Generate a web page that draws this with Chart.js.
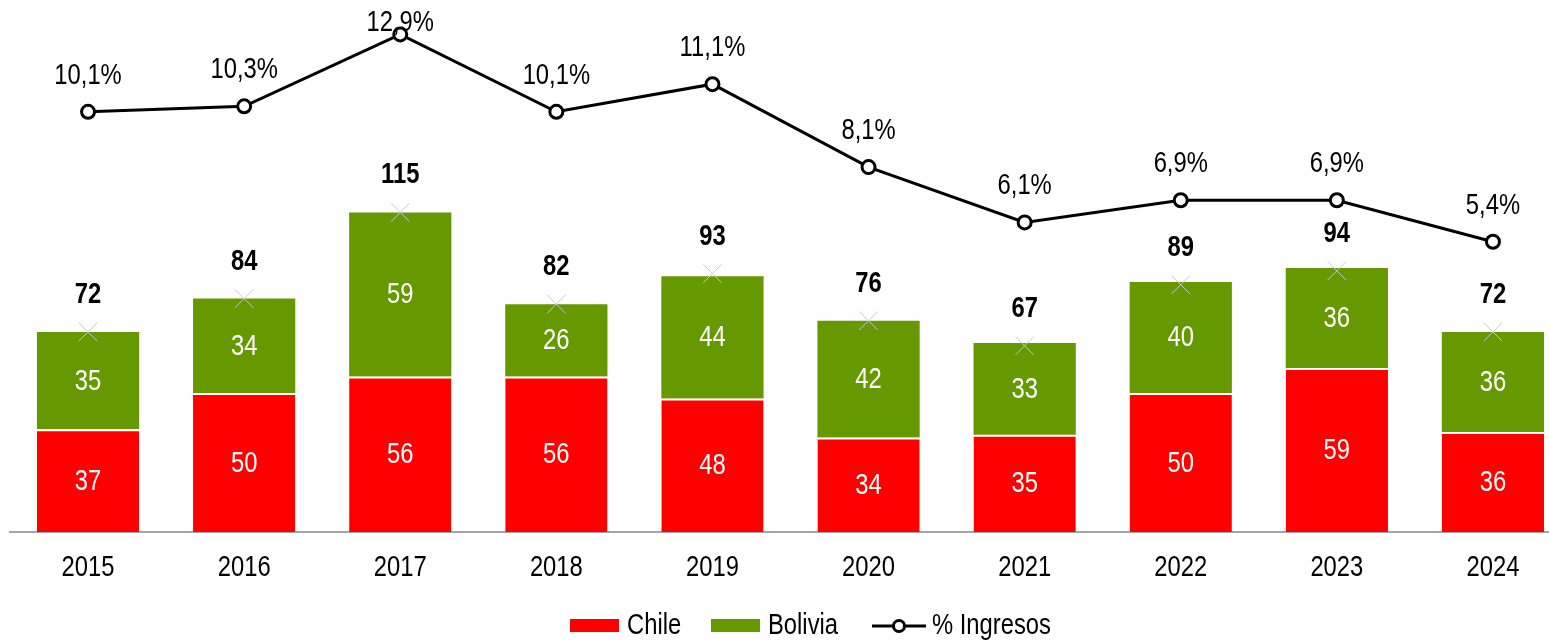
<!DOCTYPE html>
<html><head><meta charset="utf-8">
<script src="https://cdn.jsdelivr.net/npm/chart.js@4/dist/chart.umd.min.js"></script>
<style>html,body{margin:0;padding:0;overflow:hidden;background:#fff}#wrap{width:1620px;height:640px;position:relative}</style>
</head><body><div id="wrap"><canvas id="c" width="1620" height="640"></canvas></div>
<script>
const years = ['2015','2016','2017','2018','2019','2020','2021','2022','2023','2024'];
const chile = [37,50,56,56,48,34,35,50,59,36];
const bolivia = [35,34,59,26,44,42,33,40,36,36];
const totals = [72,84,115,82,93,76,67,89,94,72];
const pctIngresos = [10.1,10.3,12.9,10.1,11.1,8.1,6.1,6.9,6.9,5.4];

const FONT = "'Liberation Sans', Arial, sans-serif";
const RED = '#ff0000', GREEN = '#669900';
const SX = 0.82; // horizontal compression to mimic a narrow typeface

function txt(ctx, t, x, y, font, color, align) {
  ctx.save();
  ctx.translate(x, y);
  ctx.scale(SX, 1);
  ctx.font = font;
  ctx.fillStyle = color;
  ctx.textAlign = align || 'center';
  ctx.textBaseline = 'middle';
  ctx.fillText(t, 0, 0);
  ctx.restore();
}

const labelPlugin = {
  id: 'labelPlugin',
  afterDatasetsDraw(chart) {
    const ctx = chart.ctx;
    [0, 1].forEach(di => {
      const meta = chart.getDatasetMeta(di);
      const data = chart.data.datasets[di].data;
      meta.data.forEach((el, i) => {
        txt(ctx, String(data[i]), el.x, (el.y + el.base) / 2 + 1, '29px ' + FONT, '#ffffff');
      });
    });
    chart.getDatasetMeta(2).data.forEach((el, i) => {
      txt(ctx, String(totals[i]), el.x, el.y - 37, 'bold 29px ' + FONT, '#000');
    });
    chart.getDatasetMeta(3).data.forEach((el, i) => {
      const t = pctIngresos[i].toFixed(1).replace('.', ',') + '%';
      txt(ctx, t, el.x, Math.max(el.y - 36, 23), '29px ' + FONT, '#000');
    });
  },
  afterDraw(chart) {
    const ctx = chart.ctx;
    const xs = chart.scales.x;
    years.forEach((y, i) => {
      txt(ctx, y, xs.getPixelForValue(i), 568, '29px ' + FONT, '#000');
    });
    ctx.save();
    ctx.fillStyle = RED;
    ctx.fillRect(570, 619, 49, 13);
    ctx.fillStyle = GREEN;
    ctx.fillRect(711, 619, 49, 13);
    ctx.strokeStyle = '#000';
    ctx.lineWidth = 3;
    ctx.beginPath(); ctx.moveTo(872, 626); ctx.lineTo(926, 626); ctx.stroke();
    ctx.beginPath(); ctx.arc(899, 626, 5.5, 0, Math.PI * 2);
    ctx.fillStyle = '#fff'; ctx.fill(); ctx.stroke();
    ctx.restore();
    txt(ctx, 'Chile', 627, 626, '29px ' + FONT, '#000', 'left');
    txt(ctx, 'Bolivia', 768, 626, '29px ' + FONT, '#000', 'left');
    txt(ctx, '% Ingresos', 932, 626, '29px ' + FONT, '#000', 'left');
  }
};

new Chart(document.getElementById('c'), {
  type: 'bar',
  data: {
    labels: years,
    datasets: [
      { label: 'Chile', data: chile, backgroundColor: RED, borderColor: '#ffffff',
        borderWidth: {top: 2, left: 0, right: 0, bottom: 0}, borderSkipped: false,
        yAxisID: 'y', stack: 's', order: 3, categoryPercentage: 1, barPercentage: 0.655 },
      { label: 'Bolivia', data: bolivia, backgroundColor: GREEN, borderWidth: 0,
        yAxisID: 'y', stack: 's', order: 3, categoryPercentage: 1, barPercentage: 0.655 },
      { type: 'line', label: 'Total', data: totals, yAxisID: 'yT', showLine: false,
        pointStyle: 'crossRot', pointRadius: 13, pointBorderColor: '#cbc3e0', pointBorderWidth: 1,
        borderColor: '#cbc3e0', order: 2 },
      { type: 'line', label: '% Ingresos', data: pctIngresos, yAxisID: 'y2',
        borderColor: '#000', borderWidth: 3, pointRadius: 6.5, pointBackgroundColor: '#fff',
        pointBorderColor: '#000', pointBorderWidth: 3, tension: 0, order: 1, clip: false }
    ]
  },
  options: {
    responsive: false,
    animation: false,
    layout: { autoPadding: false, padding: { left: 10, right: 49, top: 4, bottom: 48 } },
    plugins: { legend: { display: false }, tooltip: { enabled: false } },
    scales: {
      x: {
        stacked: true,
        grid: { display: false, drawTicks: false },
        border: { color: '#a6a6a6', width: 2 },
        ticks: { display: false },
        afterFit(s) { s.height = 60; }
      },
      y: { stacked: true, display: false, min: 0, max: 190 },
      yT: { display: false, min: 0, max: 190 },
      y2: { display: false, min: -5.1, max: 14.0 }
    }
  },
  plugins: [labelPlugin]
});
</script></body></html>
